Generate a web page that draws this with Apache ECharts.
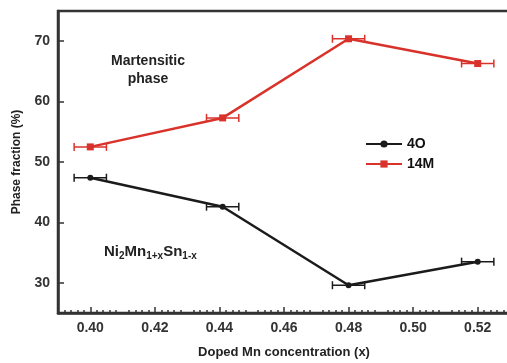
<!DOCTYPE html>
<html>
<head>
<meta charset="utf-8">
<script src="https://cdn.jsdelivr.net/npm/echarts@6/dist/echarts.min.js"></script>
<style>
  html, body { margin: 0; padding: 0; background: #fff; }
  #chart { width: 507px; height: 363px; }
</style>
</head>
<body>
<div id="chart"></div>
<script>
// Doped Mn concentration x for each sample
const concentration = [0.400, 0.441, 0.480, 0.520];
// Phase fractions (%)
const phase4O = [47.4, 42.6, 29.6, 33.5];
const phase14M = [52.5, 57.3, 70.4, 66.3];
// Horizontal uncertainty in x
const xError = [0.005, 0.005, 0.005, 0.005];
// Tick labels
const xTicks = [0.40, 0.42, 0.44, 0.46, 0.48, 0.50, 0.52];
const yTicks = [30, 40, 50, 60, 70];

const RED = '#d9322b';
const BLACK = '#1b1b1b';

function pairs(ys) {
  return concentration.map((x, i) => [x, ys[i]]);
}
function errorData(ys) {
  return concentration.map((x, i) => [x - xError[i], x + xError[i], ys[i]]);
}
function errorSeries(ys, color) {
  return {
    type: 'custom',
    z: 1,
    silent: true,
    data: errorData(ys),
    renderItem: function (params, api) {
      const a = api.coord([api.value(0), api.value(2)]);
      const b = api.coord([api.value(1), api.value(2)]);
      const h = 4;
      const style = { stroke: color, lineWidth: 1.5 };
      return {
        type: 'group',
        children: [
          { type: 'line', shape: { x1: a[0], y1: a[1], x2: b[0], y2: b[1] }, style },
          { type: 'line', shape: { x1: a[0], y1: a[1] - h, x2: a[0], y2: a[1] + h }, style },
          { type: 'line', shape: { x1: b[0], y1: b[1] - h, x2: b[0], y2: b[1] + h }, style }
        ]
      };
    }
  };
}

const chart = echarts.init(document.getElementById('chart'));
const FAMILY = 'Liberation Sans, Arial, sans-serif';
const fontBase = { fontFamily: FAMILY, fontWeight: 'bold', color: '#222' };

chart.setOption({
  animation: false,
  grid: {
    left: 58, right: -3, top: 11, bottom: 50,
    outerBoundsMode: 'none',
    show: true, borderColor: '#333', borderWidth: 2.5, backgroundColor: '#fff'
  },
  legend: {
    orient: 'vertical',
    left: 360, top: 132,
    itemWidth: 36, itemHeight: 9, itemGap: 6,
    textStyle: Object.assign({}, fontBase, { fontSize: 14, color: '#111' }),
    data: ['4O', '14M']
  },
  xAxis: {
    type: 'value',
    min: 0.39, max: 0.53, interval: 0.01,
    name: 'Doped Mn concentration (x)',
    nameLocation: 'middle', nameGap: 33,
    nameTextStyle: Object.assign({}, fontBase, { fontSize: 13 }),
    axisLine: { show: true, lineStyle: { color: '#333', width: 2.5 } },
    axisTick: { show: true, inside: true, length: 6, customValues: xTicks, lineStyle: { color: '#333', width: 1.5 } },
    minorTick: { show: true, splitNumber: 5, length: 3, lineStyle: { color: '#333', width: 1.5 } },
    axisLabel: {
      customValues: xTicks, margin: 8,
      formatter: v => v.toFixed(2),
      fontSize: 14, fontFamily: FAMILY, fontWeight: 'bold', color: '#333'
    },
    splitLine: { show: false },
    minorSplitLine: { show: false }
  },
  yAxis: {
    type: 'value',
    min: 25, max: 75,
    name: 'Phase fraction (%)',
    nameLocation: 'middle', nameGap: 35,
    nameTextStyle: Object.assign({}, fontBase, { fontSize: 12 }),
    axisLine: { show: true, lineStyle: { color: '#333', width: 2.5 } },
    axisTick: { show: true, inside: true, length: 6, customValues: yTicks, lineStyle: { color: '#333', width: 1.5 } },
    axisLabel: {
      customValues: yTicks, margin: 8,
      fontSize: 14, fontFamily: FAMILY, fontWeight: 'bold', color: '#333'
    },
    splitLine: { show: false }
  },
  graphic: [
    {
      type: 'text',
      position: [148, 52],
      style: {
        text: 'Martensitic\nphase',
        font: 'bold 14px ' + FAMILY,
        fill: '#222', lineHeight: 18, textAlign: 'center'
      }
    },
    {
      type: 'text',
      position: [104, 242],
      style: {
        text: '{b|Ni}{s|2}{b|Mn}{s|1+x}{b|Sn}{s|1-x}',
        rich: {
          b: { font: 'bold 15px ' + FAMILY, fill: '#222' },
          s: { font: 'bold 10px ' + FAMILY, fill: '#222', padding: [9, 0, 0, 0] }
        }
      }
    }
  ],
  series: [
    errorSeries(phase4O, BLACK),
    errorSeries(phase14M, RED),
    {
      name: '4O', type: 'line', z: 3,
      data: pairs(phase4O),
      symbol: 'circle', symbolSize: 6,
      itemStyle: { color: BLACK },
      lineStyle: { color: BLACK, width: 2.5 }
    },
    {
      name: '14M', type: 'line', z: 3,
      data: pairs(phase14M),
      symbol: 'rect', symbolSize: 7,
      itemStyle: { color: RED },
      lineStyle: { color: RED, width: 2.5 }
    }
  ]
});
</script>
</body>
</html>
